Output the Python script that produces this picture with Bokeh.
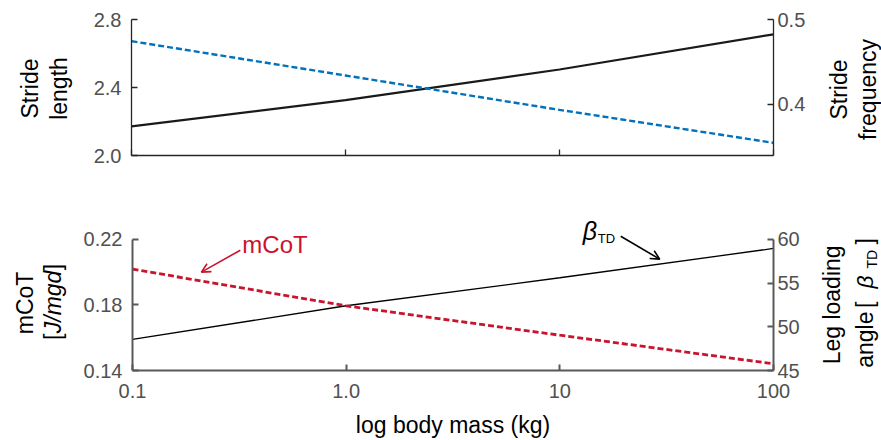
import numpy as np
from bokeh.plotting import figure
from bokeh.models import (Range1d, LinearAxis, FixedTicker, CustomJSTickFormatter,
                          Label, Arrow, OpenHead, NumeralTickFormatter)
from bokeh.layouts import column, row
from bokeh.embed import file_html
from bokeh.resources import INLINE

# ---------------- data ----------------
mass = [0.1, 1, 10, 100]
stride_length = [2.171, 2.326, 2.506, 2.713]
stride_freq = [0.4744, 0.4339, 0.3933, 0.3544]
mcot = [0.2018, 0.1794, 0.1615, 0.1441]
beta_td = [48.55, 52.4, 55.6, 58.95]

x_ticks = [0.1, 1, 10, 100]
x_tick_labels = ["0.1", "1.0", "10", "100"]
sl_ticks = [2.0, 2.4, 2.8]
sf_ticks = [0.4, 0.5]
mcot_ticks = [0.14, 0.18, 0.22]
beta_ticks = [45, 50, 55, 60]

FONT = "Liberation Sans"
TICK_COL = "#505050"
BLUE = "#0072BD"
RED = "#C8142D"

# geometry (page pixels)
LW, RW = 80, 65                   # widths of left / right label strips
MW = 881 - LW - RW                # main plot width
H1, H2 = 200, 240                 # heights of the two rows
FX0, FX1 = 131, 773
T_Y0, T_Y1 = 19, 155
B_Y0, B_Y1 = 239, 371


def px2x(px):
    return 10 ** (-1 + 3 * (px - FX0) / (FX1 - FX0))


def py_top(py):
    return 2.0 + (T_Y1 - py) / (T_Y1 - T_Y0) * 0.8


def py_bot(py):
    return 0.14 + (B_Y1 - py) / (B_Y1 - B_Y0) * 0.08


def style_axis(ax, col, width, standoff):
    ax.axis_line_color = col
    ax.axis_line_width = width
    ax.major_tick_line_color = col
    ax.major_tick_line_width = width
    ax.major_tick_in = 6
    ax.major_tick_out = 0
    ax.minor_tick_line_color = None
    ax.major_label_text_font = FONT
    ax.major_label_text_font_size = "20px"
    ax.major_label_text_color = TICK_COL
    ax.major_label_standoff = standoff


def strip(w, h, y_range, top, bottom):
    f = figure(width=w, height=h, x_range=Range1d(0, w), y_range=y_range,
               toolbar_location=None, output_backend="svg",
               min_border_left=0, min_border_right=0,
               min_border_top=top, min_border_bottom=bottom,
               x_axis_location=None, y_axis_location=None)
    f.outline_line_color = None
    f.grid.visible = False
    f.background_fill_color = "white"
    f.border_fill_color = "white"
    return f


def rlabel(f, x, y, text, size="23px", style="normal", color="black"):
    f.add_layout(Label(x=x, y=y, text=text, angle=np.pi / 2, text_align="center",
                       text_baseline="middle", text_font=FONT, text_font_size=size,
                       text_font_style=style, text_color=color))


xfmt = CustomJSTickFormatter(args=dict(vals=x_ticks, labs=x_tick_labels), code="""
for (let i = 0; i < vals.length; i++) {
  if (Math.abs(Math.log10(tick) - Math.log10(vals[i])) < 1e-6) { return labs[i]; }
}
return "";
""")
blankfmt = CustomJSTickFormatter(code="return ' ';")

# ---------------- top panel ----------------
p1 = figure(width=MW, height=H1, x_axis_type="log", output_backend="svg",
            toolbar_location=None, x_range=Range1d(0.1, 100), y_range=Range1d(2.0, 2.8),
            min_border_left=FX0 - LW, min_border_right=MW - (FX1 - LW),
            min_border_top=T_Y0, min_border_bottom=H1 - T_Y1)
p1.extra_y_ranges = {"freq": Range1d(0.5 - (T_Y1 - T_Y0) / 847.0, 0.5)}
p1.outline_line_color = None
p1.grid.visible = False
p1.background_fill_color = "white"
p1.border_fill_color = "white"

p1.xaxis.ticker = FixedTicker(ticks=x_ticks, minor_ticks=[])
style_axis(p1.xaxis[0], "#262626", 1.3, 0)
p1.xaxis.formatter = blankfmt
p1.yaxis.ticker = FixedTicker(ticks=sl_ticks, minor_ticks=[])
p1.yaxis.formatter = NumeralTickFormatter(format="0.0")
style_axis(p1.yaxis[0], "#262626", 1.3, 10)

ax_r1 = LinearAxis(y_range_name="freq", ticker=FixedTicker(ticks=sf_ticks, minor_ticks=[]),
                   formatter=NumeralTickFormatter(format="0.0"))
style_axis(ax_r1, "#262626", 1.3, 4)
p1.add_layout(ax_r1, "right")

p1.line(mass, stride_length, line_color="#1a1a1a", line_width=2.2)
p1.line(mass, stride_freq, y_range_name="freq", line_color=BLUE, line_width=2.4,
        line_dash="6 3")

l1 = strip(LW, H1, p1.y_range, T_Y0, H1 - T_Y1)
rlabel(l1, 29, py_top(88), "Stride")
rlabel(l1, 58, py_top(88), "length")
r1 = strip(RW, H1, p1.y_range, T_Y0, H1 - T_Y1)
ox = LW + MW
rlabel(r1, 838 - ox, py_top(89), "Stride")
rlabel(r1, 867 - ox, py_top(89), "frequency")

# ---------------- bottom panel ----------------
# frame reaches up to the top of the row so annotations above 0.22 are not clipped
y2_top = 0.14 + (B_Y1 - H1) / (B_Y1 - B_Y0) * 0.08
b2_top = 45 + (B_Y1 - H1) / (B_Y1 - B_Y0) * 15
bot2 = H1 + H2 - B_Y1
p2 = figure(width=MW, height=H2, x_axis_type="log", output_backend="svg",
            toolbar_location=None, x_range=Range1d(0.1, 100), y_range=Range1d(0.14, y2_top),
            min_border_left=FX0 - LW, min_border_right=MW - (FX1 - LW),
            min_border_top=0, min_border_bottom=bot2)
p2.extra_y_ranges = {"beta": Range1d(45, b2_top)}
p2.outline_line_color = None
p2.grid.visible = False
p2.background_fill_color = "white"
p2.border_fill_color = "white"

p2.xaxis.ticker = FixedTicker(ticks=x_ticks, minor_ticks=[])
p2.xaxis.formatter = xfmt
style_axis(p2.xaxis[0], "#595959", 2.0, 13)
p2.xaxis.axis_label = "log body mass (kg)"
p2.xaxis.axis_label_text_font = FONT
p2.xaxis.axis_label_text_font_size = "23px"
p2.xaxis.axis_label_text_font_style = "normal"
p2.xaxis.axis_label_text_color = "black"
p2.xaxis.axis_label_standoff = 11

p2.yaxis.ticker = FixedTicker(ticks=mcot_ticks, minor_ticks=[])
p2.yaxis.formatter = NumeralTickFormatter(format="0.00")
p2.yaxis.bounds = (0.14, 0.22)
style_axis(p2.yaxis[0], "#595959", 2.0, 10)

ax_r2 = LinearAxis(y_range_name="beta", ticker=FixedTicker(ticks=beta_ticks, minor_ticks=[]),
                   bounds=(45, 60))
style_axis(ax_r2, "#595959", 2.0, 4)
p2.add_layout(ax_r2, "right")

p2.line(mass, beta_td, y_range_name="beta", line_color="black", line_width=1.3)
p2.line(mass, mcot, line_color=RED, line_width=2.8, line_dash="6 3")

# annotations
p2.add_layout(Arrow(end=OpenHead(size=9, line_color=RED, line_width=1.6),
                    x_start=px2x(239), y_start=py_bot(250), x_end=px2x(200), y_end=py_bot(272),
                    line_color=RED, line_width=1.6))
p2.add_layout(Label(x=px2x(241), y=py_bot(244), text="mCoT", text_align="left",
                    text_baseline="middle", text_font=FONT, text_font_size="24px",
                    text_color=RED))
p2.add_layout(Arrow(end=OpenHead(size=9, line_color="black", line_width=1.6),
                    x_start=px2x(620), y_start=py_bot(236), x_end=px2x(659), y_end=py_bot(259),
                    line_color="black", line_width=1.6))
p2.add_layout(Label(x=px2x(589), y=py_bot(231), text="β", text_align="center",
                    text_baseline="middle", text_font=FONT, text_font_size="25px",
                    text_font_style="italic", text_color="black"))
p2.add_layout(Label(x=px2x(597), y=py_bot(238), text="TD", text_align="left",
                    text_baseline="middle", text_font=FONT, text_font_size="13px",
                    text_color="black"))

l2 = strip(LW, H2, p2.y_range, 0, bot2)
rlabel(l2, 24, py_bot(303), "mCoT")
rlabel(l2, 52, py_bot(337), "[")
rlabel(l2, 52, py_bot(302), "J/mgd", style="italic")
rlabel(l2, 52, py_bot(267), "]")

r2 = strip(RW, H2, p2.y_range, 0, bot2)
rlabel(r2, 831 - ox, py_bot(305), "Leg loading")
rlabel(r2, 864 - ox, py_bot(340), "angle")
rlabel(r2, 864 - ox, py_bot(305), "[")
rlabel(r2, 864 - ox, py_bot(282), "β", style="italic")
rlabel(r2, 871 - ox, py_bot(259), "TD", size="14px")
rlabel(r2, 864 - ox, py_bot(241), "]")

layout = column(row(l1, p1, r1), row(l2, p2, r2))
open("out.html", "w").write(file_html(layout, INLINE))
